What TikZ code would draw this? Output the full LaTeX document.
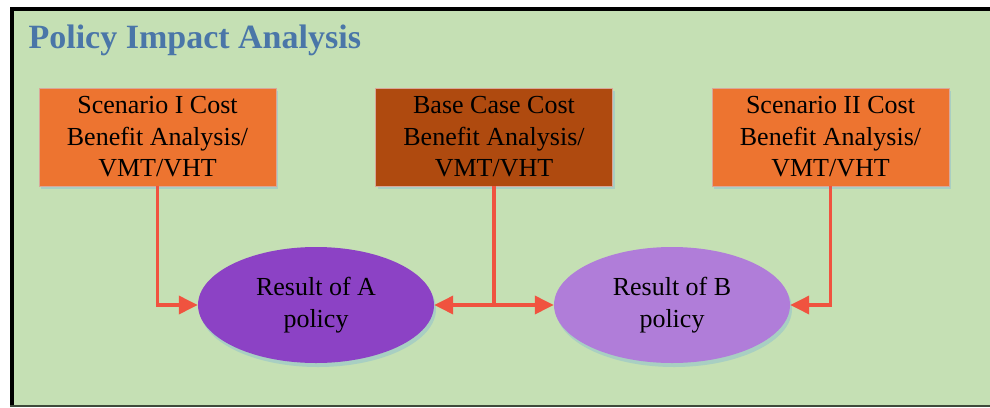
\documentclass[tikz,border=0pt]{standalone}
\usepackage{fontspec}
\setmainfont{Liberation Serif}
\usepackage{tikz}
\usetikzlibrary{
    arrows.meta,
    shapes.geometric,
    shadows,
    positioning
}
\definecolor{panelgreen}{HTML}{C5E0B4}
\definecolor{titleblue}{HTML}{4A76A8}
\definecolor{scenorange}{HTML}{ED7430}
\definecolor{basebrown}{HTML}{AF4A0F}
\definecolor{boxedge}{HTML}{D9A79A}
\definecolor{shadowteal}{HTML}{A8CFC2}
\definecolor{resultA}{HTML}{8C42C5}
\definecolor{resultB}{HTML}{B07DD9}
\definecolor{flowred}{HTML}{F0533F}
\definecolor{bottomline}{HTML}{3E4A3A}
\tikzset{
    costbox/.style={rectangle, draw=boxedge, line width=0.8pt,
        minimum width=237pt, minimum height=98pt, align=center,
        font=\fontsize{26}{31.5}\selectfont,
        drop shadow={shadow xshift=2pt, shadow yshift=-3pt, fill=shadowteal, opacity=1}},
    resultnode/.style={ellipse, minimum width=236pt, minimum height=116pt, align=center,
        font=\fontsize{26}{31.5}\selectfont,
        drop shadow={shadow xshift=2pt, shadow yshift=-4pt, fill=shadowteal, opacity=1}},
    flow/.style={draw=flowred, line width=3.5pt,
        -{Triangle[length=19pt, width=18pt]}}
}

\begin{document}
\begin{tikzpicture}[x=1pt, y=-1pt]
    \useasboundingbox (0, 0) rectangle (990, 407);
    % panel
    \fill[panelgreen] (14, 11) rectangle (990, 405);
    \fill[black] (10, 7) rectangle (990, 11);
    \fill[black] (10, 7) rectangle (14, 405);
    \fill[bottomline] (10, 405) rectangle (990, 407);
    \node[anchor=base west, text=titleblue, font=\fontsize{34}{38}\selectfont\bfseries]
        (title) at (25, 48) {Policy Impact Analysis};

    % cost benefit boxes
    \node[costbox, fill=scenorange] (scenI) at (157.5, 137) {Scenario I Cost\\Benefit Analysis/\\VMT/VHT};
    \node[costbox, fill=basebrown] (base) at (494, 137) {Base Case Cost\\Benefit Analysis/\\VMT/VHT};
    \node[costbox, fill=scenorange] (scenII) at (830.5, 137) {Scenario II Cost\\Benefit Analysis/\\VMT/VHT};

    % results
    \node[resultnode, fill=resultA] (resA) at (316, 305) {Result of A\\policy};
    \node[resultnode, fill=resultB] (resB) at (672, 305) {Result of B\\policy};

    % connectors
    \draw[flow] (scenI.south) |- (resA.west);
    \draw[flow] (scenII.south) |- (resB.east);
    \draw[flow, -] (base.south) -- (base.south |- resA.east);
    \draw[flow, {Triangle[length=19pt, width=18pt]}-{Triangle[length=19pt, width=18pt]}]
        (resA.east) -- (resB.west);
\end{tikzpicture}
\end{document}
